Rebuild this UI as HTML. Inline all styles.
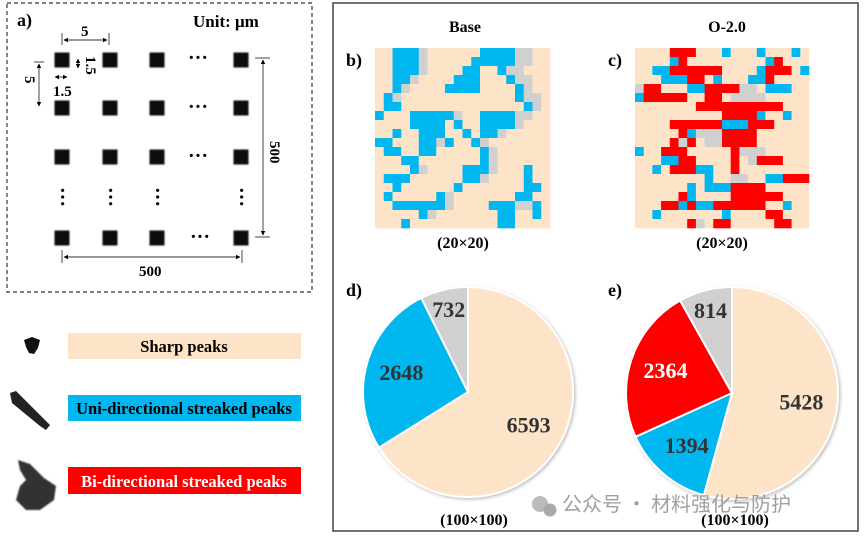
<!DOCTYPE html>
<html><head><meta charset="utf-8"><style>
body{margin:0;background:#fff;}
svg{display:block;font-family:"Liberation Serif","Noto Serif CJK SC",serif;}
</style></head><body>
<svg width="865" height="538" viewBox="0 0 865 538">
<defs>
<filter id="blur" x="-30%" y="-30%" width="160%" height="160%"><feGaussianBlur stdDeviation="0.9"/></filter>
<filter id="sh" x="-10%" y="-10%" width="130%" height="130%"><feDropShadow dx="1.5" dy="1.5" stdDeviation="1.5" flood-color="#000" flood-opacity="0.25"/></filter>
<marker id="ah" viewBox="0 0 10 10" refX="9" refY="5" markerWidth="5" markerHeight="5" orient="auto-start-reverse"><path d="M0,0L10,5L0,10z" fill="#000"/></marker>
</defs>
<g>
<rect x="7" y="3" width="305" height="289" fill="none" stroke="#333" stroke-width="1.2" stroke-dasharray="4,3"/>
<text x="17" y="26" font-size="18" font-weight="bold">a)</text>
<text x="193" y="27" font-size="17" font-weight="bold">Unit: μm</text>
<g id="sq" fill="#111" filter="url(#blur)"></g>
<g font-size="20" font-weight="bold">
<text x="188" y="64">···</text><text x="188" y="113">···</text><text x="188" y="162">···</text><text x="190" y="243">···</text>
<text x="53" y="202" transform="rotate(90 62 196)">···</text><text x="101" y="202" transform="rotate(90 110 196)">···</text><text x="148" y="202" transform="rotate(90 157 196)">···</text><text x="232" y="202" transform="rotate(90 241 196)">···</text>
</g>
<g stroke="#333" stroke-width="0.9" fill="none">
<line x1="62" y1="33" x2="62" y2="45"/><line x1="109" y1="33" x2="109" y2="45"/>
<line x1="64" y1="40" x2="107" y2="40" marker-start="url(#ah)" marker-end="url(#ah)"/>
<line x1="34" y1="62" x2="44" y2="62"/><line x1="39" y1="64" x2="39" y2="106" marker-start="url(#ah)" marker-end="url(#ah)"/>
<line x1="78" y1="59" x2="78" y2="68" marker-start="url(#ah)" marker-end="url(#ah)"/>
<line x1="55" y1="77" x2="67" y2="77" marker-start="url(#ah)" marker-end="url(#ah)"/>
<line x1="255" y1="58" x2="270" y2="58"/><line x1="255" y1="237" x2="270" y2="237"/>
<line x1="263" y1="60" x2="263" y2="235" marker-start="url(#ah)" marker-end="url(#ah)"/>
<line x1="62" y1="250" x2="62" y2="263"/><line x1="242" y1="250" x2="242" y2="263"/>
<line x1="64" y1="257" x2="240" y2="257" marker-start="url(#ah)" marker-end="url(#ah)"/>
</g>
<g font-size="15" font-weight="bold">
<text x="81" y="36">5</text><text x="22" y="85" transform="rotate(90 28 82)">5</text>
<text x="53" y="96">1.5</text><text x="82" y="68" transform="rotate(90 90 64)">1.5</text>
<text x="265" y="158" transform="rotate(90 276 152)">500</text>
<text x="139" y="276">500</text>
</g>
</g>
<g font-size="16.5" font-weight="bold">
<path d="M24,340 L32,337 L40,340 L38,348 L34,354 L29,353 L26,347 Z" fill="#111"/>
<path d="M10,393 L16,391 L50,425 L46,430 L40,426 L12,403 Z" fill="#222"/>
<path d="M18,460 L30,464 L44,478 L56,486 L54,500 L40,510 L26,510 L16,500 L20,486 L26,480 L20,470 Z" fill="#333" filter="url(#blur)"/>
<rect x="68" y="333" width="233" height="26" fill="#fde3c7"/>
<text x="184" y="352" text-anchor="middle">Sharp peaks</text>
<rect x="68" y="395" width="233" height="26" fill="#00b7f0"/>
<text x="184" y="414" text-anchor="middle">Uni-directional streaked peaks</text>
<rect x="68" y="467" width="233" height="27" fill="#ff0000"/>
<text x="184" y="487" text-anchor="middle" fill="#fff">Bi-directional streaked peaks</text>
</g>
<rect x="333" y="3" width="525" height="528" fill="none" stroke="#444" stroke-width="1.5"/>
<g font-size="16" font-weight="bold">
<text x="465" y="32" text-anchor="middle">Base</text>
<text x="727" y="32" text-anchor="middle">O-2.0</text>
<text x="346" y="66" font-size="18">b)</text><text x="608" y="66" font-size="18">c)</text>
<text x="346" y="296" font-size="18">d)</text><text x="608" y="296" font-size="18">e)</text>
<text x="463" y="248" text-anchor="middle">(20×20)</text>
<text x="722" y="248" text-anchor="middle">(20×20)</text>
</g>
<g id="gridB"></g>
<g id="gridC"></g>
<g id="pieD"></g>
<g id="pieE"></g>
<g fill="#a0a0a0">
<circle cx="540" cy="504" r="8" fill="#bbb"/><circle cx="550" cy="510" r="6.5" fill="#aaa"/>
<text x="562" y="511" font-size="20" font-family="'Noto Sans CJK SC',sans-serif">公众号 · 材料强化与防护</text>
</g>
<g font-size="16" font-weight="bold">
<text x="474" y="525" text-anchor="middle">(100×100)</text>
<text x="735" y="525" text-anchor="middle">(100×100)</text>
</g>
</svg>
<script>
const NS="http://www.w3.org/2000/svg";
const gridBaseRows=[
"..bbbg......bbbbgg..","..bbbg.....bbbbbgg..","..bbbg....bb..bgg...","..bbg....bbb...bgg..","..bg....bbbb....bg..",
".bg.............bgg.",".bb..............bg.","b...bbbbbg..bbbbgg..","....bbbb.b..bbbbg...","..b..bbb..b.bbg.....",
"bb...bbgb..bg.......",".bb..bb.....bg......","...bb.......bg......","....bg....bbbg...b..",".bbb......bbg....b..",
"..b......b.......bb.",".b.....bg.......bb..","..bbbbbbg....bbbggb.",".....bg.......bb..b.","...b..........bb...."];
const gridO20Rows=[
"....rrr...b...b...b.","....br.........br...","..bbrrrrrr....brrr.b","...bbbrr.b...bbr....","grr...bbrrrrgg.bbb..",
"brrrrr..rr.gggg.....",".......rrrrrrrrrr...","..........rrrrb..b..","....rrrrrrbbbrrr....",".....rbgggrrrr......",
"....rgr.ggrrrr......","b..rrr.....rggg.....","...bbrr....r.grrr...","..b.rrrbb..r........","........b..gg..bbrrr",
"......b.bbbrrrr.....",".....rb....rrrrrr...","...rrbrbbrrrrrr..b..","..b.......b....rr...","......rg.rr.....rr.."];
const colorMap={'.':'#fde3c7','b':'#00b7f0','r':'#ff0000','g':'#d0d0d0'};
function drawGrid(id,rows,x0,y0,w,h){
  const g=document.getElementById(id);
  const cw=w/rows[0].length,ch=h/rows.length;
  rows.forEach((row,r)=>{[...row].forEach((c,k)=>{
    const e=document.createElementNS(NS,'rect');
    e.setAttribute('x',x0+k*cw);e.setAttribute('y',y0+r*ch);
    e.setAttribute('width',cw+0.3);e.setAttribute('height',ch+0.3);
    e.setAttribute('fill',colorMap[c]);
    
    
    g.appendChild(e);});});
}
drawGrid('gridB',gridBaseRows,375,48,175,180);
drawGrid('gridC',gridO20Rows,635,48,174,180);

const pieBaseValues=[6593,2648,732];
const pieBaseColors=['#fde3c7','#00b7f0','#d0d0d0'];
const pieO20Values=[5428,1394,2364,814];
const pieO20Colors=['#fde3c7','#00b7f0','#ff0000','#d0d0d0'];
const pieO20TextColors=['#333','#333','#fff','#333'];
const pieBaseTextColors=['#333','#333','#333'];
function drawPie(id,vals,cols,tcols,cx,cy,R){
  const g=document.getElementById(id);
  const tot=vals.reduce((a,b)=>a+b,0);
  let a0=0;
  const gs=document.createElementNS(NS,'g');gs.setAttribute('filter','url(#sh)');g.appendChild(gs);
  vals.forEach((v,i)=>{
    const a1=a0+v/tot*2*Math.PI;
    const x0=cx+R*Math.sin(a0),y0=cy-R*Math.cos(a0),x1=cx+R*Math.sin(a1),y1=cy-R*Math.cos(a1);
    const p=document.createElementNS(NS,'path');
    p.setAttribute('d',`M${cx},${cy}L${x0},${y0}A${R},${R} 0 ${a1-a0>Math.PI?1:0} 1 ${x1},${y1}Z`);
    p.setAttribute('fill',cols[i]);p.setAttribute('stroke','#fff');p.setAttribute('stroke-width','2');
    
    
    gs.appendChild(p);
    const am=(a0+a1)/2, f=v/tot<0.1?0.8:0.66;
    const t=document.createElementNS(NS,'text');
    t.setAttribute('x',cx+R*f*Math.sin(am));t.setAttribute('y',cy-R*f*Math.cos(am)+7);
    t.setAttribute('text-anchor','middle');t.setAttribute('font-size','22');t.setAttribute('font-weight','bold');
    t.setAttribute('fill',tcols[i]);t.textContent=v;
    
    
    g.appendChild(t);
    a0=a1;
  });
}
drawPie('pieD',pieBaseValues,pieBaseColors,pieBaseTextColors,468,392,105);
drawPie('pieE',pieO20Values,pieO20Colors,pieO20TextColors,732,393,106);

const sq=document.getElementById('sq');
[62,110,157,241].forEach(x=>[60,108,157,238].forEach(y=>{
  const r=document.createElementNS(NS,'rect');
  r.setAttribute('x',x-7.5);r.setAttribute('y',y-7.5);r.setAttribute('width',15);r.setAttribute('height',15);
  
  
  sq.appendChild(r);}));
</script>
</body></html>
